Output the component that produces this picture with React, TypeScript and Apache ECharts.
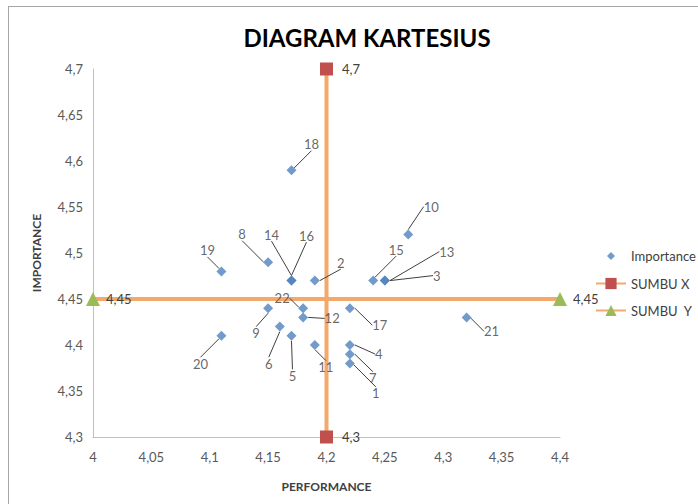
import React, { useEffect, useRef } from "react";
import * as echarts from "echarts";

const pointIds = ["1","2","3","4","5","6","7","8","9","10","11","12","13","14","15","16","17","18","19","20","21","22"];
const performance = [4.22,4.19,4.25,4.22,4.17,4.16,4.22,4.15,4.15,4.27,4.19,4.18,4.25,4.17,4.24,4.17,4.22,4.17,4.11,4.11,4.32,4.18];
const importance = [4.38,4.47,4.47,4.40,4.41,4.42,4.39,4.49,4.44,4.52,4.40,4.43,4.47,4.47,4.47,4.47,4.44,4.59,4.48,4.41,4.43,4.44];
const sumbuXPoints = [[4.2, 4.3], [4.2, 4.7]];
const sumbuYPoints = [[4.0, 4.45], [4.4, 4.45]];
const xTicks = { min: 4, max: 4.4, step: 0.05 };
const yTicks = { min: 4.3, max: 4.7, step: 0.05 };

// label offsets (px) from each point, styling only
const labelOffsets: number[][] = [
  [26, 30], [26, -18], [52, -5], [29, 9], [1, 40], [-11, 37], [23, 24], [-26, -28],
  [-12, 25], [23, -28], [11, 22], [29, 1], [62, -29], [-20, -46], [23, -31], [15, -45],
  [30, 17], [20, -26], [-14, -21], [-21, 28], [25, 14], [-21, -10],
];

const comma = (v: number) => String(Math.round(v * 1000) / 1000).replace(".", ",");
const FONT = "Lato, 'Open Sans', sans-serif";
const smallDiamond = "path://M0,0 M30,14 M15,3 L19,7 L15,11 L11,7 Z";

export default function App() {
  const ref = useRef<HTMLDivElement>(null);
  useEffect(() => {
    if (!ref.current) return;
    const chart = echarts.init(ref.current, undefined, { renderer: "svg" });
    const scatterData = performance.map((x, i) => ({ value: [x, importance[i]], name: pointIds[i] }));
    chart.setOption({
      animation: false,
      backgroundColor: "#fff",
      textStyle: { fontFamily: FONT },
      title: {
        text: "DIAGRAM KARTESIUS",
        left: 362,
        textAlign: "center",
        top: 20,
        textStyle: { fontSize: 24, fontWeight: "bold", color: "#000", fontFamily: FONT },
      },
      graphic: [
        { type: "line", shape: { x1: 8, y1: 6.5, x2: 698, y2: 6.5 }, style: { stroke: "#a6a6a6", lineWidth: 1 } },
        { type: "line", shape: { x1: 8.5, y1: 6, x2: 8.5, y2: 504 }, style: { stroke: "#a6a6a6", lineWidth: 1 } },
      ],
      grid: { left: 93, right: 138, top: 69, bottom: 67, containLabel: false },
      legend: {
        orient: "vertical",
        left: 590,
        top: 244,
        itemGap: 14,
        itemWidth: 30,
        itemHeight: 14,
        textStyle: { fontSize: 13, color: "#404040", fontFamily: FONT },
        data: [
          { name: "Importance", icon: smallDiamond },
          { name: "SUMBU X" },
          { name: "SUMBU  Y" },
        ],
      },
      xAxis: {
        type: "value",
        min: xTicks.min,
        max: xTicks.max,
        interval: xTicks.step,
        name: "PERFORMANCE",
        nameLocation: "middle",
        nameGap: 43,
        nameTextStyle: { fontSize: 12, fontWeight: "bold", color: "#404040", fontFamily: FONT },
        axisLine: { show: true, lineStyle: { color: "#bfbfbf" } },
        axisTick: { show: false },
        splitLine: { show: false },
        axisLabel: { formatter: comma, fontSize: 13, color: "#595959", margin: 13, fontFamily: FONT },
      },
      yAxis: {
        type: "value",
        min: yTicks.min,
        max: yTicks.max,
        interval: yTicks.step,
        name: "IMPORTANCE",
        nameLocation: "middle",
        nameGap: 51,
        nameTextStyle: { fontSize: 12, fontWeight: "bold", color: "#404040", fontFamily: FONT },
        axisLine: { show: true, lineStyle: { color: "#bfbfbf" } },
        axisTick: { show: false },
        splitLine: { show: false },
        axisLabel: { formatter: comma, fontSize: 13, color: "#595959", margin: 10, fontFamily: FONT },
      },
      series: [
        {
          name: "SUMBU X",
          type: "line",
          data: sumbuXPoints,
          symbol: "rect",
          symbolSize: 13,
          itemStyle: { color: "#C0504D" },
          lineStyle: { color: "#F4A96B", width: 4 },
          label: { show: true, position: "right", distance: 9, formatter: (p: any) => comma(p.value[1]), fontSize: 13, color: "#404040" },
          z: 2,
        },
        {
          name: "SUMBU  Y",
          type: "line",
          data: sumbuYPoints,
          symbol: "triangle",
          symbolSize: 14,
          itemStyle: { color: "#9BBB59" },
          lineStyle: { color: "#F4A96B", width: 4 },
          label: { show: true, position: "right", distance: 6, formatter: (p: any) => comma(p.value[1]), fontSize: 13, color: "#404040" },
          z: 2,
        },
        {
          name: "Importance",
          type: "scatter",
          data: scatterData,
          symbol: "diamond",
          symbolSize: 10,
          itemStyle: { color: "#4F81BD" },
          label: {
            show: true,
            position: "inside",
            formatter: (p: any) => p.name,
            fontSize: 13,
            color: "#404040",
          },
          labelLine: { show: true, lineStyle: { color: "#404040", width: 1 } },
          labelLayout: (params: any) => {
            const o = labelOffsets[params.dataIndex];
            return { dx: o[0], dy: o[1] };
          },
          z: 5,
        },
      ],
    });
    return () => chart.dispose();
  }, []);
  return (
    <div
      ref={ref}
      style={{ position: "fixed", left: 0, top: 0, width: 698, height: 504 }}
    />
  );
}
